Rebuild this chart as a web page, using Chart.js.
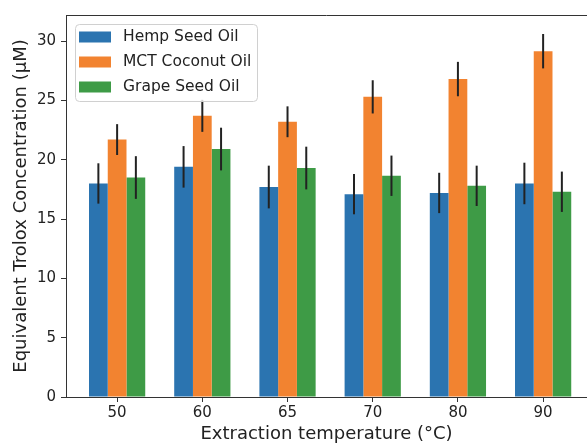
<!DOCTYPE html>
<html>
<head>
<meta charset="utf-8">
<script src="https://cdn.jsdelivr.net/npm/chart.js@4"></script>
<style>
    html, body { margin: 0; padding: 0; overflow: hidden; background: #fff; }
    #chart { display: block; }
</style>
</head>
<body>
<canvas id="chart" width="587" height="445"></canvas>
<script>
const temperatures = ['50', '60', '65', '70', '80', '90'];
const hempSeed = [18.0, 19.4, 17.7, 17.1, 17.2, 18.0];
const hempSeedErr = [1.7, 1.75, 1.8, 1.7, 1.7, 1.75];
const mctCoconut = [21.7, 23.7, 23.2, 25.3, 26.8, 29.15];
const mctCoconutErr = [1.3, 1.35, 1.3, 1.4, 1.45, 1.45];
const grapeSeed = [18.5, 20.9, 19.3, 18.65, 17.8, 17.3];
const grapeSeedErr = [1.8, 1.8, 1.8, 1.7, 1.7, 1.7];
const yTicks = [0, 5, 10, 15, 20, 25, 30];

Chart.defaults.font.family = 'DejaVu Sans';
Chart.defaults.font.size = 15;
Chart.defaults.color = '#222';

const toPoints = arr => arr.map((v, i) => ({ x: i, y: v }));

// error bars drawn over the bars, using the chart's own scales
const errorBars = {
    id: 'errorBars',
    afterDatasetsDraw(chart) {
        const ctx = chart.ctx;
        const yScale = chart.scales.y;
        ctx.save();
        ctx.strokeStyle = '#222';
        ctx.lineWidth = 2;
        chart.data.datasets.forEach((ds, di) => {
            const meta = chart.getDatasetMeta(di);
            meta.data.forEach((bar, i) => {
                const v = ds.data[i].y;
                const e = ds.errors[i];
                ctx.beginPath();
                ctx.moveTo(bar.x, yScale.getPixelForValue(v - e));
                ctx.lineTo(bar.x, yScale.getPixelForValue(v + e));
                ctx.stroke();
            });
        });
        ctx.restore();
    }
};

// top spine + matplotlib style legend box
const frameAndLegend = {
    id: 'frameAndLegend',
    afterDraw(chart) {
        const ctx = chart.ctx;
        const area = chart.chartArea;
        ctx.save();
        ctx.strokeStyle = '#333';
        ctx.lineWidth = 1;
        ctx.beginPath();
        ctx.moveTo(area.left, area.top + 0.5);
        ctx.lineTo(area.right, area.top + 0.5);
        ctx.stroke();

        const bx = area.left + 9, by = area.top + 9, bw = 182, bh = 77, r = 4;
        ctx.beginPath();
        ctx.roundRect(bx + 0.5, by + 0.5, bw, bh, r);
        ctx.fillStyle = 'rgba(255,255,255,0.8)';
        ctx.fill();
        ctx.strokeStyle = '#d0d0d0';
        ctx.stroke();

        ctx.font = '15.5px "DejaVu Sans"';
        ctx.textBaseline = 'middle';
        chart.data.datasets.forEach((ds, i) => {
            const cy = by + 13 + i * 25;
            ctx.fillStyle = ds.backgroundColor;
            ctx.fillRect(bx + 4, cy - 5.5, 32, 11);
            ctx.fillStyle = '#222';
            ctx.fillText(ds.label, bx + 48, cy);
        });
        ctx.restore();
    }
};

new Chart(document.getElementById('chart'), {
    type: 'bar',
    data: {
        datasets: [
            { label: 'Hemp Seed Oil', data: toPoints(hempSeed), errors: hempSeedErr, backgroundColor: '#2b74b0' },
            { label: 'MCT Coconut Oil', data: toPoints(mctCoconut), errors: mctCoconutErr, backgroundColor: '#f28330' },
            { label: 'Grape Seed Oil', data: toPoints(grapeSeed), errors: grapeSeedErr, backgroundColor: '#3e9b46' }
        ]
    },
    options: {
        responsive: false,
        animation: false,
        layout: { padding: { top: 15, right: 0, left: 0, bottom: 0 } },
        categoryPercentage: 0.66,
        barPercentage: 1.0,
        plugins: {
            legend: { display: false },
            tooltip: { enabled: false }
        },
        scales: {
            x: {
                type: 'linear',
                offset: false,
                min: -0.6,
                max: 5.515,  // the right part of the axes is cropped off in the original
                afterBuildTicks: axis => { axis.ticks = temperatures.map((_, i) => ({ value: i })); },
                afterFit: axis => { axis.height = 48; },
                ticks: { autoSkip: false, maxRotation: 0, padding: 2, callback: v => temperatures[v] },
                grid: { offset: false, drawOnChartArea: false, tickLength: 5, tickColor: '#333' },
                border: { color: '#333' },
                title: {
                    display: true,
                    text: 'Extraction temperature (°C)',
                    font: { size: 18 },
                    padding: { top: -2, bottom: 0 }
                }
            },
            y: {
                min: 0,
                max: 32.2,
                afterBuildTicks: axis => { axis.ticks = yTicks.map(v => ({ value: v })); },
                afterFit: axis => { axis.width = 66; },
                ticks: { padding: 5 },
                grid: { drawOnChartArea: false, tickLength: 5, tickColor: '#333' },
                border: { color: '#333' },
                title: {
                    display: true,
                    text: 'Equivalent Trolox Concentration (μM)',
                    font: { size: 18 },
                    padding: { top: 11, bottom: 0 }
                }
            }
        }
    },
    plugins: [errorBars, frameAndLegend]
});
</script>
</body>
</html>
